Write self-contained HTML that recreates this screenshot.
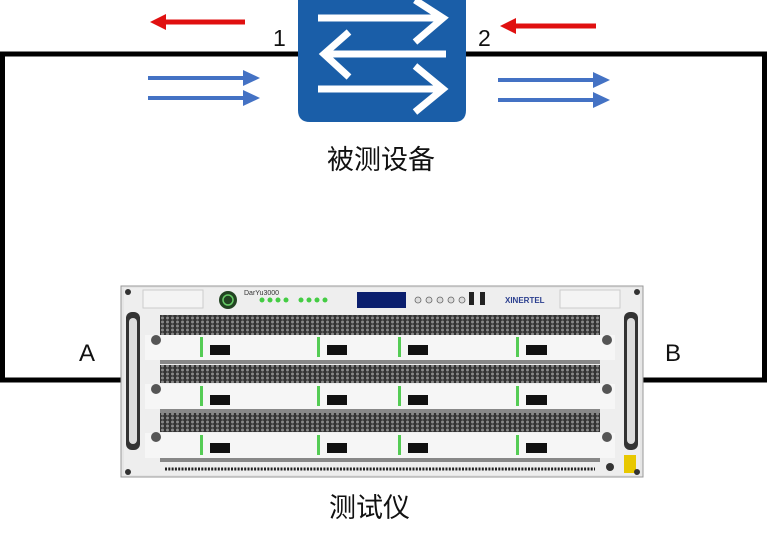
<!DOCTYPE html>
<html><head><meta charset="utf-8"><style>
html,body{margin:0;padding:0;background:#fff;}
body{width:768px;height:541px;overflow:hidden;position:relative;font-family:"Liberation Sans","Noto Sans CJK SC",sans-serif;}
.t{position:absolute;color:#111;}
</style></head><body>
<svg width="768" height="541" style="position:absolute;left:0;top:0">
<defs>
<pattern id="hc" width="5" height="4" patternUnits="userSpaceOnUse">
<rect width="5" height="4" fill="#333"/><circle cx="2.5" cy="2" r="1.5" fill="#888"/>
</pattern>
</defs>
<path d="M300 54 H2.5 V380 H125" fill="none" stroke="#000" stroke-width="5"/>
<path d="M464 54 H764.5 V380 H640" fill="none" stroke="#000" stroke-width="5"/>
<path d="M298 0 H466 V110 Q466 122 454 122 H310 Q298 122 298 110 Z" fill="#1a5ea8"/>
<g stroke="#fff" stroke-width="7" fill="none">
<path d="M318 18 H440"/><path d="M415 0 L443 18 L415 42"/>
<path d="M446 54 H324"/><path d="M349 32 L324 54 L349 77"/>
<path d="M318 89 H440"/><path d="M415 66 L443 89 L415 112"/>
</g>
<path d="M245 22 H165" stroke="#e01010" stroke-width="5"/><path d="M150 22 L166 14 L166 30 Z" fill="#e01010"/>
<path d="M596 26 H515" stroke="#e01010" stroke-width="5"/><path d="M500 26 L516 18 L516 34 Z" fill="#e01010"/>
<g fill="#4472c4">
<rect x="148" y="76" width="96" height="4"/><path d="M243 70 L260 78 L243 86 Z"/>
<rect x="148" y="96" width="96" height="4"/><path d="M243 90 L260 98 L243 106 Z"/>
<rect x="498" y="78" width="96" height="4"/><path d="M593 72 L610 80 L593 88 Z"/>
<rect x="498" y="98" width="96" height="4"/><path d="M593 92 L610 100 L593 108 Z"/>
</g>
<rect x="121" y="286" width="522" height="191" fill="#e6e6e6" stroke="#999"/>
<rect x="124" y="288" width="516" height="187" fill="#eeeeee"/>
<rect x="143" y="290" width="60" height="18" fill="#f4f4f4" stroke="#ccc"/>
<rect x="560" y="290" width="60" height="18" fill="#f4f4f4" stroke="#ccc"/>
<circle cx="228" cy="300" r="9" fill="#224422"/><circle cx="228" cy="300" r="5" fill="none" stroke="#6c6" stroke-width="1.5"/>
<text x="244" y="295" font-size="7" fill="#333" font-family="Liberation Sans">DarYu3000</text>
<g fill="#4c4">
<circle cx="262" cy="300" r="2.5"/><circle cx="270" cy="300" r="2.5"/><circle cx="278" cy="300" r="2.5"/><circle cx="286" cy="300" r="2.5"/>
<circle cx="301" cy="300" r="2.5"/><circle cx="309" cy="300" r="2.5"/><circle cx="317" cy="300" r="2.5"/><circle cx="325" cy="300" r="2.5"/>
</g>
<rect x="357" y="292" width="49" height="16" fill="#0b1f6e"/>
<g fill="#ddd" stroke="#666" stroke-width="0.8"><circle cx="418" cy="300" r="3"/><circle cx="429" cy="300" r="3"/><circle cx="440" cy="300" r="3"/><circle cx="451" cy="300" r="3"/><circle cx="462" cy="300" r="3"/></g>
<rect x="469" y="292" width="5" height="13" fill="#222"/><rect x="480" y="292" width="5" height="13" fill="#222"/>
<text x="505" y="303" font-size="8" font-weight="bold" fill="#2b3f8f" font-family="Liberation Sans">XINERTEL</text>
<rect x="126" y="312" width="14" height="138" rx="6" fill="#333"/><rect x="129" y="318" width="8" height="126" rx="4" fill="#ddd"/>
<rect x="624" y="312" width="14" height="138" rx="6" fill="#333"/><rect x="627" y="318" width="8" height="126" rx="4" fill="#ddd"/>
<rect x="160" y="315" width="440" height="20" fill="url(#hc)"/>
<rect x="160" y="365" width="440" height="18" fill="url(#hc)"/>
<rect x="160" y="413" width="440" height="19" fill="url(#hc)"/>
<rect x="145" y="335" width="470" height="25" fill="#f6f6f6"/>
<rect x="145" y="384" width="470" height="25" fill="#f6f6f6"/>
<rect x="145" y="433" width="470" height="25" fill="#f6f6f6"/>
<rect x="160" y="360" width="440" height="4" fill="#888"/>
<rect x="160" y="409" width="440" height="4" fill="#888"/>
<rect x="160" y="458" width="440" height="4" fill="#888"/>
<g fill="#111">
<rect x="210" y="345" width="20" height="10"/><rect x="327" y="345" width="20" height="10"/><rect x="408" y="345" width="20" height="10"/><rect x="526" y="345" width="21" height="10"/>
<rect x="210" y="395" width="20" height="10"/><rect x="327" y="395" width="20" height="10"/><rect x="408" y="395" width="20" height="10"/><rect x="526" y="395" width="21" height="10"/>
<rect x="210" y="443" width="20" height="10"/><rect x="327" y="443" width="20" height="10"/><rect x="408" y="443" width="20" height="10"/><rect x="526" y="443" width="21" height="10"/>
</g>
<g fill="#5c5">
<rect x="200" y="337" width="3" height="20"/><rect x="317" y="337" width="3" height="20"/><rect x="398" y="337" width="3" height="20"/><rect x="516" y="337" width="3" height="20"/>
<rect x="200" y="386" width="3" height="20"/><rect x="317" y="386" width="3" height="20"/><rect x="398" y="386" width="3" height="20"/><rect x="516" y="386" width="3" height="20"/>
<rect x="200" y="435" width="3" height="20"/><rect x="317" y="435" width="3" height="20"/><rect x="398" y="435" width="3" height="20"/><rect x="516" y="435" width="3" height="20"/>
</g>
<g fill="#555"><circle cx="156" cy="340" r="5"/><circle cx="607" cy="340" r="5"/><circle cx="156" cy="389" r="5"/><circle cx="607" cy="389" r="5"/><circle cx="156" cy="437" r="5"/><circle cx="607" cy="437" r="5"/></g>
<line x1="165" y1="469" x2="595" y2="469" stroke="#222" stroke-width="3" stroke-dasharray="2 1.3"/>
<circle cx="610" cy="467" r="4" fill="#333"/>
<rect x="624" y="455" width="12" height="18" fill="#e8c800"/>
<circle cx="128" cy="292" r="3" fill="#333"/><circle cx="637" cy="292" r="3" fill="#333"/>
<circle cx="128" cy="472" r="3" fill="#333"/><circle cx="637" cy="472" r="3" fill="#333"/>
</svg>
<div class="t" style="left:273px;top:25px;font-size:23px;">1</div>
<div class="t" style="left:478px;top:25px;font-size:23px;">2</div>
<div class="t" style="left:327px;top:138px;font-size:27px;">被测设备</div>
<div class="t" style="left:79px;top:340px;font-size:24px;">A</div>
<div class="t" style="left:665px;top:340px;font-size:24px;">B</div>
<div class="t" style="left:329px;top:486px;font-size:27px;">测试仪</div>
</body></html>
